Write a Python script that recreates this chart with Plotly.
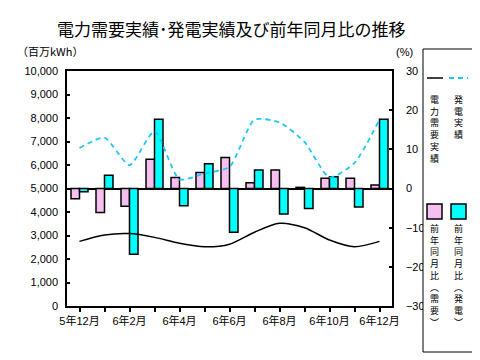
import plotly.graph_objects as go

months = ["5年12月", "6年1月", "6年2月", "6年3月", "6年4月", "6年5月", "6年6月",
          "6年7月", "6年8月", "6年9月", "6年10月", "6年11月", "6年12月"]
tick_text = ["5年12月", "", "6年2月", "", "6年4月", "", "6年6月",
             "", "6年8月", "", "6年10月", "", "6年12月"]
demand = [2750, 3020, 3080, 2920, 2670, 2520, 2630, 3140, 3520, 3330, 2810, 2520, 2750]
generation = [6720, 7160, 5990, 7440, 5390, 5640, 5920, 7930, 7810, 6980, 5470, 6090, 7930]
demand_yoy = [-2.6, -6.1, -4.5, 7.5, 2.8, 4.1, 7.9, 1.5, 4.7, 0.3, 2.6, 2.6, 0.9]
gen_yoy = [-0.8, 3.4, -16.8, 17.7, -4.4, 6.3, -11.2, 4.7, -6.5, -5.1, 3.0, -4.7, 17.7]

PINK = "#F5C0F0"
CYAN = "#00FFFF"
DASHC = "#1EC8F0"
FONT = "Liberation Sans, Noto Sans CJK JP"
CJK = "Noto Sans CJK JP"

OFF = 8  # browser body margin
L, R, T, B = 67, 392, 71, 306  # plot area in window pixels


def px(x):
    return (x - L) / (R - L)


def py(y):
    return (B - y) / (B - T)


fig = go.Figure()
fig.add_trace(go.Bar(x=months, y=demand_yoy, name="前年同月比（需要）",
                     marker=dict(color=PINK, line=dict(color="black", width=1.5)),
                     yaxis="y"))
fig.add_trace(go.Bar(x=months, y=gen_yoy, name="前年同月比（発電）",
                     marker=dict(color=CYAN, line=dict(color="black", width=1.5)),
                     yaxis="y"))
fig.add_trace(go.Scatter(x=months, y=demand, name="電力需要実績", mode="lines",
                         line=dict(color="black", width=1.5, shape="spline", smoothing=0.8),
                         yaxis="y2"))
fig.add_trace(go.Scatter(x=months, y=generation, name="発電実績", mode="lines",
                         line=dict(color=DASHC, width=1.8, dash="5px,4px", shape="spline", smoothing=0.6),
                         yaxis="y2"))

fig.update_layout(
    width=480, height=360,
    margin=dict(l=L - OFF, r=480 - (R - OFF), t=T - OFF, b=360 - (B - OFF), autoexpand=False),
    paper_bgcolor="white", plot_bgcolor="white",
    showlegend=False,
    barmode="group", bargap=0.32, bargroupgap=0,
    font=dict(family=FONT, size=11, color="black"),
    xaxis=dict(type="category", tickvals=months, ticktext=tick_text,
               ticks="outside", ticklen=4, tickwidth=1.5, tickcolor="black",
               showline=True, linecolor="black", linewidth=1.5, mirror=True,
               showgrid=False, tickfont=dict(family=FONT, size=11)),
    yaxis=dict(side="right", range=[-30, 30], tickvals=[-30, -20, -10, 0, 10, 20, 30],
               ticks="inside", ticklen=3, tickwidth=1.5, tickcolor="black",
               showline=True, linecolor="black", linewidth=1.5,
               showgrid=False, zeroline=True, zerolinecolor="black", zerolinewidth=1.5,
               ticklabelstandoff=10, tickfont=dict(family=FONT, size=11)),
    yaxis2=dict(side="left", overlaying="y", range=[0, 10000], dtick=1000,
                tickformat=",", ticks="inside", ticklen=3, tickwidth=1.5, tickcolor="black",
                showline=True, linecolor="black", linewidth=1.5,
                showgrid=False, zeroline=False,
                ticklabelstandoff=5, tickfont=dict(family=FONT, size=11)),
)

anns = []
shapes = []
anns.append(dict(text="電力需要実績･発電実績及び前年同月比の推移", x=px(231.5), y=py(29),
                 xref="paper", yref="paper", showarrow=False, xanchor="center", yanchor="middle",
                 font=dict(family=CJK, size=17, color="black")))
anns.append(dict(text="（百万kWh）", x=px(15), y=py(51), xref="paper", yref="paper",
                 showarrow=False, xanchor="left", yanchor="middle",
                 font=dict(family=CJK, size=11, color="black")))
anns.append(dict(text="(%)", x=px(404), y=py(52), xref="paper", yref="paper",
                 showarrow=False, xanchor="center", yanchor="middle",
                 font=dict(family=FONT, size=11, color="black")))

# legend box
shapes.append(dict(type="rect", xref="paper", yref="paper", x0=px(423), x1=px(473),
                   y0=py(352), y1=py(49), line=dict(color="black", width=1), fillcolor="white",
                   layer="above"))
shapes.append(dict(type="line", xref="paper", yref="paper", x0=px(427), x1=px(443),
                   y0=py(78), y1=py(78), line=dict(color="black", width=1.5)))
shapes.append(dict(type="line", xref="paper", yref="paper", x0=px(449), x1=px(468),
                   y0=py(78), y1=py(78), line=dict(color=DASHC, width=1.8, dash="5px,4px")))
shapes.append(dict(type="rect", xref="paper", yref="paper", x0=px(427), x1=px(442),
                   y0=py(219), y1=py(204), line=dict(color="black", width=1.5), fillcolor=PINK))
shapes.append(dict(type="rect", xref="paper", yref="paper", x0=px(451), x1=px(466),
                   y0=py(219), y1=py(204), line=dict(color="black", width=1.5), fillcolor=CYAN))


def vtext(chars, x, y_top):
    anns.append(dict(text="<br>".join(chars), x=px(x), y=py(y_top), xref="paper", yref="paper",
                     showarrow=False, xanchor="center", yanchor="top", align="center",
                     font=dict(family=CJK, size=9, color="black"), borderpad=0))


vtext("電力需要実績", 434, 92)
vtext("発電実績", 458, 92)
vtext("前年同月比︵需要︶", 434, 221)
vtext("前年同月比︵発電︶", 458, 221)

fig.update_layout(annotations=anns, shapes=shapes)
fig.write_html("out.html")
